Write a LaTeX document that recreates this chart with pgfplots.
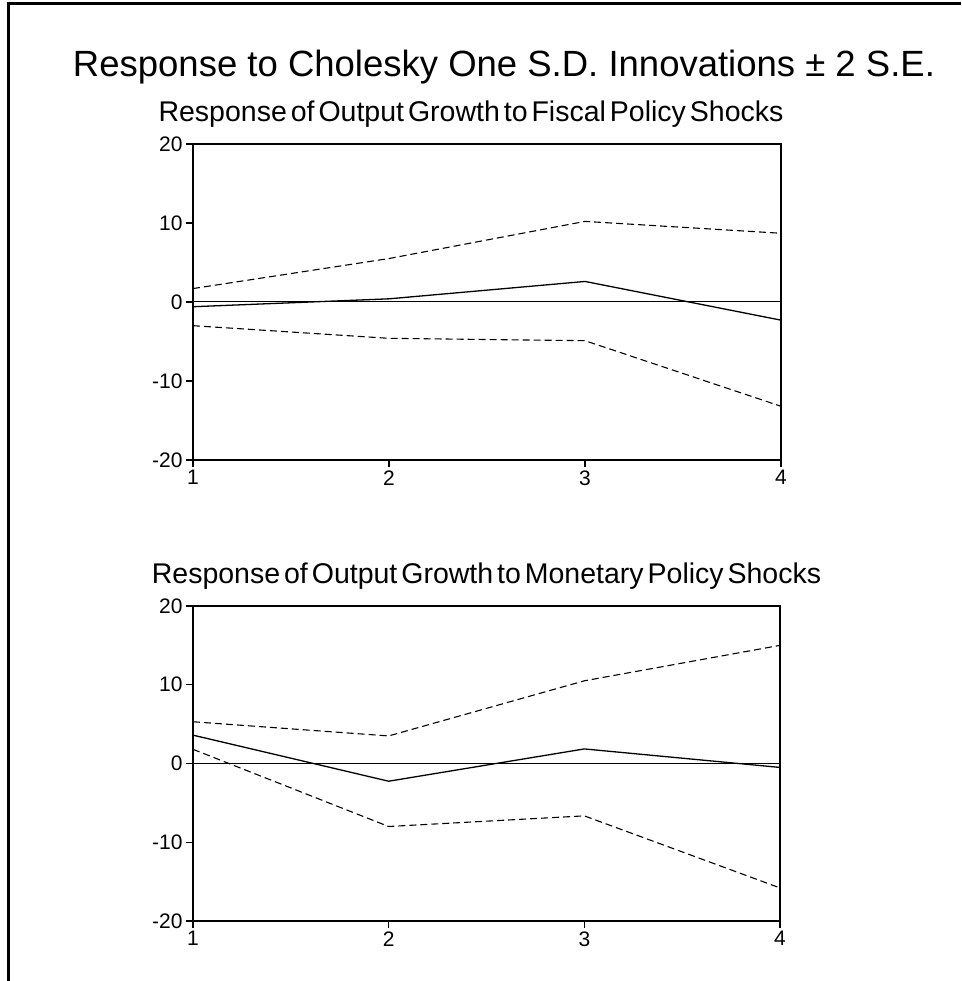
\documentclass[border=0pt]{standalone}
\usepackage{fontspec}
\setmainfont{Liberation Sans}
\newfontfamily\subfont{Liberation Sans}[WordSpace=0.5]
\usepackage{pgfplots}
\pgfplotsset{compat=1.18}
\pgfplotstableread{
x upper resp lower
1 1.7 -0.6 -3.0
2 5.5 0.4 -4.6
3 10.2 2.6 -4.9
4 8.7 -2.3 -13.2
}\fiscal
\pgfplotstableread{
x upper resp lower
1 5.3 3.6 1.8
2 3.5 -2.25 -8.0
3 10.5 1.85 -6.65
4 15.0 -0.5 -15.8
}\monetary
\pgfplotsset{irf/.style={
  scale only axis,
  xmin=1, xmax=4, ymin=-20, ymax=20,
  xtick={1,2,3,4}, xticklabels={1,2,3,4},
  ytick={-20,-10,0,10,20}, yticklabels={-20,-10,0,10,20},
  xtick pos=bottom, ytick pos=left,
  tick align=outside,
  major tick length=7pt,
  axis line style={line width=1.5pt, black},
  tick style={line width=1.2pt, black},
  ticklabel style={font=\fontsize{21}{24}\selectfont},
  title style={font=\subfont\fontsize{28.5}{31}\selectfont, at={(0.5,1)}, anchor=base, yshift=16pt},
  clip=false,
}}
\begin{document}
\begin{tikzpicture}
\path[use as bounding box] (0pt,0pt) rectangle (961pt,981pt);
\draw[line width=2.5pt] (8.5pt,0pt) -- (8.5pt,977.5pt) -- (961pt,977.5pt);
\node[anchor=base, font=\fontsize{36.5}{40}\selectfont] at (504pt,904pt) {Response to Cholesky One S.D. Innovations ± 2 S.E.};
\begin{axis}[irf, at={(193pt,521pt)}, anchor=south west, width=588pt, height=316pt,
  title={Response of Output Growth to Fiscal Policy Shocks},
  title style={xshift=-16pt}]
\addplot[black, line width=1pt] coordinates {(1,0) (4,0)};
\addplot[black, line width=1.1pt, dash pattern=on 7pt off 4pt] table[x=x, y=upper] \fiscal;
\addplot[black, line width=1.3pt] table[x=x, y=resp] \fiscal;
\addplot[black, line width=1.1pt, dash pattern=on 7pt off 4pt] table[x=x, y=lower] \fiscal;
\end{axis}
\begin{axis}[irf, at={(193pt,60pt)}, anchor=south west, width=587pt, height=315pt,
  title={Response of Output Growth to Monetary Policy Shocks}]
\addplot[black, line width=1pt] coordinates {(1,0) (4,0)};
\addplot[black, line width=1.1pt, dash pattern=on 7pt off 4pt] table[x=x, y=upper] \monetary;
\addplot[black, line width=1.3pt] table[x=x, y=resp] \monetary;
\addplot[black, line width=1.1pt, dash pattern=on 7pt off 4pt] table[x=x, y=lower] \monetary;
\end{axis}
\end{tikzpicture}
\end{document}
